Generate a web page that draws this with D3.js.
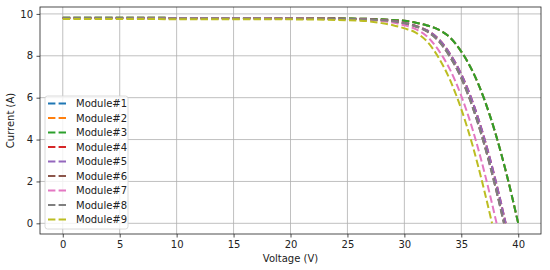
<!doctype html>
<html>
<head>
    <meta charset="UTF-8">
    <title>I-V curves</title>
    <script src="https://d3js.org/d3.v7.min.js"></script>
    <style>
        body{ margin:0; background:#fff; }
        text{ font-family: "DejaVu Sans", sans-serif; }
    </style>
</head>
<body>
    <svg id="chart"></svg>
    <script>
        // series names
        var modules = ["Module#1","Module#2","Module#3","Module#4","Module#5","Module#6","Module#7","Module#8","Module#9"];
        var colors = ["#1f77b4","#ff7f0e","#2ca02c","#d62728","#9467bd","#8c564b","#e377c2","#7f7f7f","#bcbd22"];

        // voltage (V) / current (A)
        var vA = [0,5,10,15,20,25,27,28,29,30,31,32,33,34,35,36,37,38,39,40];
        var iA = [9.82,9.82,9.81,9.81,9.80,9.78,9.76,9.74,9.71,9.67,9.58,9.45,9.25,8.88,8.20,7.25,5.95,4.30,2.30,0];

        var vB = [0,5,10,15,20,25,28,29,30,31,32,33,34,35,36,37,38,38.9];
        var iB = [9.80,9.80,9.79,9.79,9.78,9.76,9.70,9.66,9.57,9.43,9.21,8.81,8.10,7.12,5.79,4.10,2.07,0];

        var vC = [0,5,10,15,20,25,28,29,30,31,32,33,34,35,36,37,38,38.75];
        var iC = [9.80,9.80,9.79,9.79,9.78,9.76,9.70,9.65,9.55,9.40,9.16,8.71,7.96,6.93,5.54,3.80,1.73,0];

        var v7 = [0,5,10,15,20,25,27,28,29,30,31,32,33,34,35,36,37,38.1];
        var i7 = [9.80,9.80,9.79,9.79,9.78,9.75,9.71,9.67,9.59,9.46,9.27,8.92,8.27,7.35,6.08,4.47,2.50,0];

        var v9 = [0,5,10,15,20,25,27,28,29,30,31,32,33,34,35,36,37,37.7];
        var i9 = [9.76,9.76,9.75,9.75,9.74,9.70,9.64,9.56,9.46,9.31,9.11,8.68,7.92,6.86,5.45,3.70,1.61,0];

        var xTicks = [0,5,10,15,20,25,30,35,40];
        var yTicks = [0,2,4,6,8,10];

        var volts = [vA, vA, vA, vB, vB, vC, v7, vC, v9];
        var amps  = [iA, iA, iA, iB, iB, iC, i7, iC, i9];

        var W = 550, H = 270;
        var m = {left: 40, top: 7, right: 9, bottom: 36};

        var svg = d3.select("#chart").attr("width", W).attr("height", H);

        var x = d3.scaleLinear().domain([-2, 42]).range([m.left, W - m.right]);
        var y = d3.scaleLinear().domain([-0.51, 10.33]).range([H - m.bottom, m.top]);

        // grid
        var grid = svg.append("g");
        grid.selectAll(".gx").data(xTicks).enter().append("line")
            .attr("x1", function(d){ return x(d); }).attr("x2", function(d){ return x(d); })
            .attr("y1", m.top).attr("y2", H - m.bottom)
            .attr("stroke", "#b0b0b0").attr("stroke-width", 0.8);
        grid.selectAll(".gy").data(yTicks).enter().append("line")
            .attr("y1", function(d){ return y(d); }).attr("y2", function(d){ return y(d); })
            .attr("x1", m.left).attr("x2", W - m.right)
            .attr("stroke", "#b0b0b0").attr("stroke-width", 0.8);

        // curves
        var line = d3.line()
            .x(function(d){ return x(d[0]); })
            .y(function(d){ return y(d[1]); })
            .curve(d3.curveMonotoneX);

        svg.append("defs").append("clipPath").attr("id", "clip")
            .append("rect").attr("x", m.left).attr("y", m.top)
            .attr("width", W - m.left - m.right).attr("height", H - m.top - m.bottom);

        svg.append("g").attr("clip-path", "url(#clip)")
            .selectAll("path").data(modules).enter().append("path")
            .attr("d", function(d, i){ return line(d3.zip(volts[i], amps[i])); })
            .attr("fill", "none")
            .attr("stroke", function(d, i){ return colors[i]; })
            .attr("stroke-width", 2)
            .attr("stroke-dasharray", "7.4,3.2");

        // axes
        var xAxis = svg.append("g").attr("transform", "translate(0," + (H - m.bottom) + ")")
            .call(d3.axisBottom(x).tickValues(xTicks).tickSize(3.5).tickPadding(3.5));
        var yAxis = svg.append("g").attr("transform", "translate(" + m.left + ",0)")
            .call(d3.axisLeft(y).tickValues(yTicks).tickSize(3.5).tickPadding(3.5));
        [xAxis, yAxis].forEach(function(a){
            a.select(".domain").remove();
            a.selectAll("text").attr("font-size", 10).attr("fill", "#222")
             .style("font-family", "DejaVu Sans");
            a.selectAll("line").attr("stroke", "#222").attr("stroke-width", 0.8);
        });

        // frame
        svg.append("rect").attr("x", m.left).attr("y", m.top)
            .attr("width", W - m.left - m.right).attr("height", H - m.top - m.bottom)
            .attr("fill", "none").attr("stroke", "#222").attr("stroke-width", 0.8);

        svg.append("text").attr("x", (m.left + W - m.right) / 2).attr("y", 262)
            .attr("text-anchor", "middle").attr("font-size", 10).attr("fill", "#222")
            .text("Voltage (V)");
        svg.append("text").attr("transform", "translate(14," + ((m.top + H - m.bottom) / 2) + ") rotate(-90)")
            .attr("text-anchor", "middle").attr("font-size", 10).attr("fill", "#222")
            .text("Current (A)");

        // legend
        var lg = svg.append("g").attr("transform", "translate(45,96)");
        lg.append("rect").attr("width", 83).attr("height", 133).attr("rx", 2.5)
            .attr("fill", "#fff").attr("fill-opacity", 0.8)
            .attr("stroke", "#d0d0d0").attr("stroke-width", 0.8);
        var row = lg.selectAll(".row").data(modules).enter().append("g")
            .attr("transform", function(d, i){ return "translate(0," + (7.5 + i * 14.5) + ")"; });
        row.append("line").attr("x1", 3).attr("x2", 22).attr("y1", 0).attr("y2", 0)
            .attr("stroke", function(d, i){ return colors[i]; })
            .attr("stroke-width", 2).attr("stroke-dasharray", "7.4,3.2");
        row.append("text").attr("x", 31).attr("y", 0).attr("dy", "0.35em")
            .attr("font-size", 10).attr("fill", "#222").text(function(d){ return d; });
    </script>
</body>
</html>
